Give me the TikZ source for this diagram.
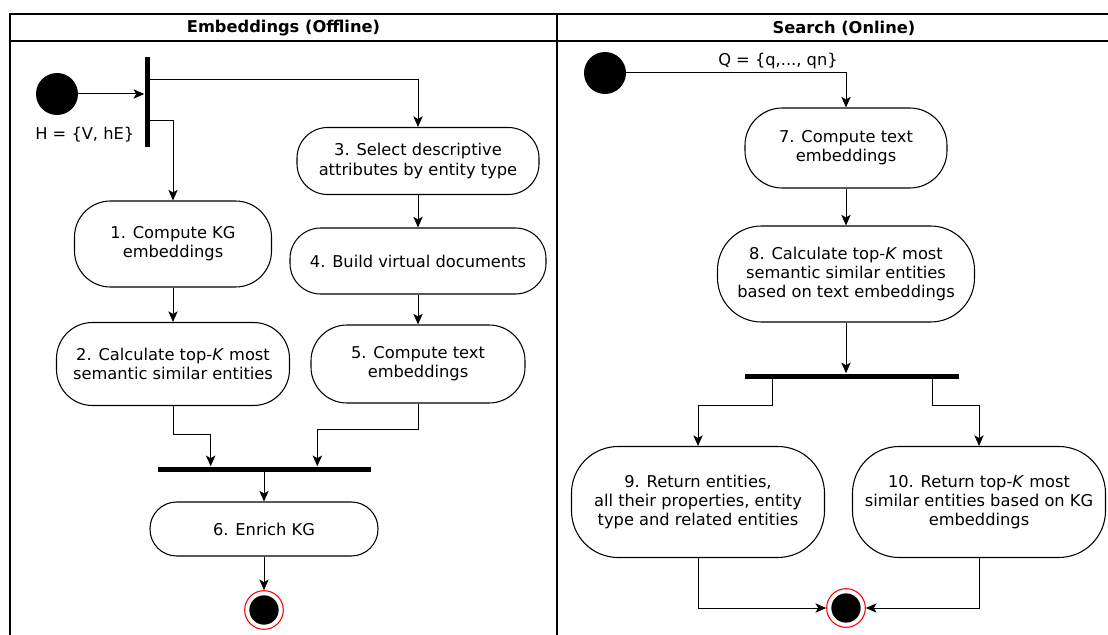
\documentclass[tikz,border=0pt]{standalone}
\usepackage{fontspec}
\setmainfont{DejaVu Sans}
\usetikzlibrary{arrows.meta}

\begin{document}
\begin{tikzpicture}
    [x = .75pt, y = -.75pt, >={Stealth[length=8pt,width=7pt,inset=2pt]},
     every node/.style = {font=\fontsize{12.2}{14.3}\selectfont},
     act/.style = {draw, rounded corners=#1, align=center, inner sep=0pt, line width=.8pt},
     bar/.style = {fill=black, inner sep=0pt},
     init/.style = {circle, fill=black, inner sep=0pt, minimum size=31.5pt},
     final/.style = {circle, draw=red, fill=white, inner sep=0pt, minimum size=29pt, line width=.8pt,
       path picture={\fill[black] (path picture bounding box.center) circle (11pt);}},
     flow/.style = {->, line width=.75pt}]
    \useasboundingbox (0,0) rectangle (1108,635);
    \draw[line width=1.1pt] (10,635) -- (10,14) -- (1108,14);
    \draw[line width=1.1pt] (10,41) -- (1108,41);
    \draw[line width=1.1pt] (557,14) -- (557,635);
    \node[font=\fontsize{12.2}{14.3}\selectfont\bfseries] (hoff) at (283.5,28) {Embeddings (Offline)};
    \node[font=\fontsize{12.2}{14.3}\selectfont\bfseries] (hon) at (844,28) {Search (Online)};

    % offline
    \node[init] (init1) at (57,94) {};
    \node[bar, minimum width=3.75pt, minimum height=67.5pt] (fork1) at (147,102) {};
    \node[anchor=east] (hlab) at (139,135) {H = \{V, hE\}};
    \node[act=27pt, minimum width=147.75pt, minimum height=64.5pt] (n1) at (173,244) {1. Compute KG\\embeddings};
    \node[act=27pt, minimum width=174.75pt, minimum height=62.25pt] (n2) at (173,364) {2. Calculate top-\textit{K} most\\semantic similar entities};
    \node[act=23pt, minimum width=181.5pt, minimum height=50.25pt] (n3) at (418,161) {3. Select descriptive\\attributes by entity type};
    \node[act=23pt, minimum width=192pt, minimum height=49.5pt] (n4) at (418,261) {4. Build virtual documents};
    \node[act=27pt, minimum width=160.5pt, minimum height=58.5pt] (n5) at (418,364) {5. Compute text\\embeddings};
    \node[bar, minimum width=159.75pt, minimum height=3.75pt] (join1) at (264,469) {};
    \node[act=20pt, minimum width=171pt, minimum height=40.5pt] (n6) at (264,529) {6. Enrich KG};
    \node[final] (end1) at (264,610) {};

    \draw[flow] (init1) -- (init1 -| fork1.west);
    \draw[flow] (fork1.east |- 0,80) -| (n3);
    \draw[flow] (fork1.east |- 0,121) -| (n1);
    \foreach \from/ \to in {n1/n2,n3/n4,n4/n5,join1/n6,n6/end1}
      \draw[flow] (\from) -- (\to);
    \draw[flow] (n2.south) -- ++(0,28) -| ([xshift=-40pt]join1.north);
    \draw[flow] (n5.south) -- ++(0,26) -| ([xshift=40pt]join1.north);

    % online
    \node[init] (init2) at (605,73) {};
    \node (qlab) at (778,61) {Q = \{q,..., qn\}};
    \node[act=28pt, minimum width=151.5pt, minimum height=60pt] (n7) at (846,148) {7. Compute text\\embeddings};
    \node[act=33pt, minimum width=192.75pt, minimum height=72pt] (n8) at (846,274) {8. Calculate top-\textit{K} most\\semantic similar entities\\based on text embeddings};
    \node[bar, minimum width=160.5pt, minimum height=3.75pt] (fork2) at (852,376) {};
    \node[act=35pt, minimum width=189.75pt, minimum height=83.25pt] (n9) at (698,502) {9. Return entities,\\all their properties, entity\\type and related entities};
    \node[act=35pt, minimum width=189.75pt, minimum height=83.25pt] (n10) at (979,502) {10. Return top-\textit{K} most\\similar entities based on KG\\embeddings};
    \node[final] (end2) at (846,608) {};

    \draw[flow] (init2) -| (n7);
    \draw[flow] (n7) -- (n8);
    \draw[flow] (n8) -- (n8 |- fork2.north);
    \draw[flow] (fork2.south -| 772,0) -- ++(0,27) -| (n9);
    \draw[flow] (fork2.south -| 932,0) -- ++(0,27) -| (n10);
    \draw[flow] (n9) |- (end2);
    \draw[flow] (n10) |- (end2);
  \end{tikzpicture}
\end{document}
